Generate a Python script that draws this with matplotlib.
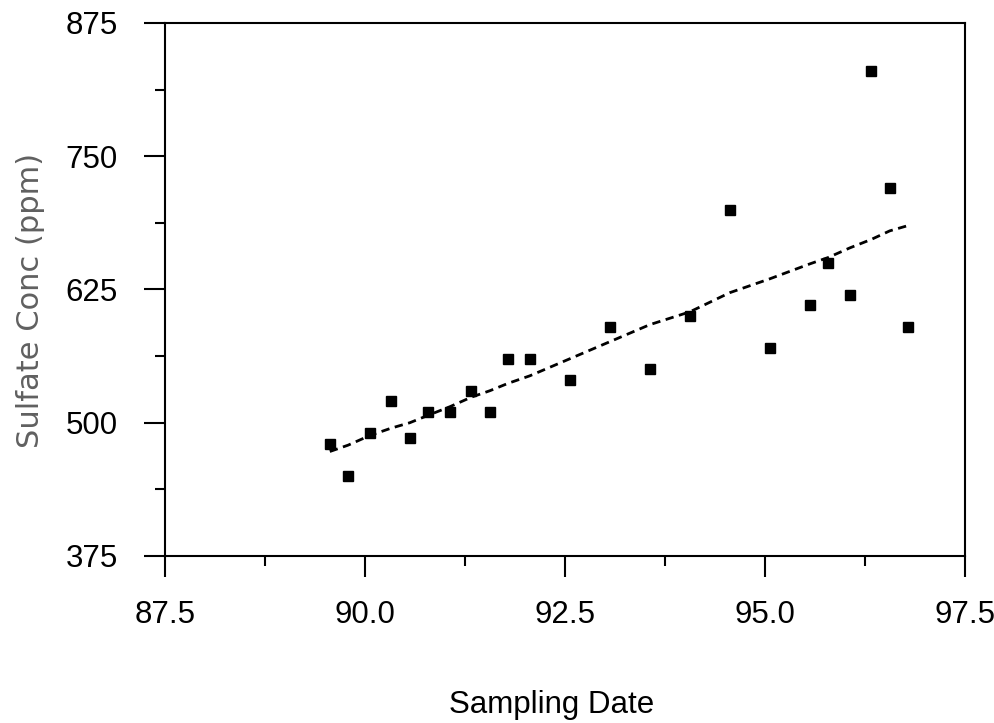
import matplotlib
matplotlib.use("Agg")
import matplotlib.pyplot as plt
from matplotlib.ticker import MultipleLocator, FormatStrFormatter

# sampling date (decimal year) and sulfate concentration (ppm)
dates = [89.56, 89.79, 90.06, 90.33, 90.56, 90.79, 91.06, 91.33, 91.56, 91.79,
         92.06, 92.56, 93.06, 93.56, 94.06, 94.56, 95.06, 95.56, 95.79, 96.06,
         96.33, 96.56, 96.79]
sulfate = [480, 450, 490, 520, 486, 510, 510, 530, 510, 560,
           560, 540, 590, 550, 600, 700, 570, 610, 650, 620,
           830, 720, 590]

# smoothed trend
trend = [473, 479, 488, 495, 500, 507, 515, 524, 530, 537,
         544, 560, 576, 592, 604, 622, 635, 649, 655, 664,
         672, 680, 685]

fig = plt.figure(figsize=(9.94, 7.23), dpi=100)
ax = fig.add_axes([0.166, 0.231, 0.8048, 0.7372])

ax.plot(dates, trend, color='black', lw=2.0, linestyle=(0, (3.0, 2.0)))
ax.plot(dates, sulfate, 's', color='black', markersize=7.8)

ax.set_xlim(87.5, 97.5)
ax.set_ylim(375, 875)
ax.xaxis.set_major_locator(MultipleLocator(2.5))
ax.xaxis.set_minor_locator(MultipleLocator(1.25))
ax.yaxis.set_major_locator(MultipleLocator(125))
ax.yaxis.set_minor_locator(MultipleLocator(62.5))
ax.xaxis.set_major_formatter(FormatStrFormatter('%.1f'))

ax.tick_params(which='major', direction='out', length=15, width=1.5, labelsize=22.5, pad=17)
ax.tick_params(which='minor', direction='out', length=7.5, width=1.5)
ax.tick_params(axis='y', which='major', pad=19)
for lab in ax.get_xticklabels() + ax.get_yticklabels():
    lab.set_fontfamily('Liberation Sans')

for sp in ax.spines.values():
    sp.set_linewidth(1.5)

fig.text(0.555, 10 / 723, 'Sampling Date', fontsize=22.5, family='Liberation Sans',
         ha='center', va='baseline')
ax.set_ylabel('Sulfate Conc (ppm)', fontsize=22, color='#606060')
ax.yaxis.set_label_coords(-0.150, 0.48)

fig.savefig('out.png', dpi=100)
